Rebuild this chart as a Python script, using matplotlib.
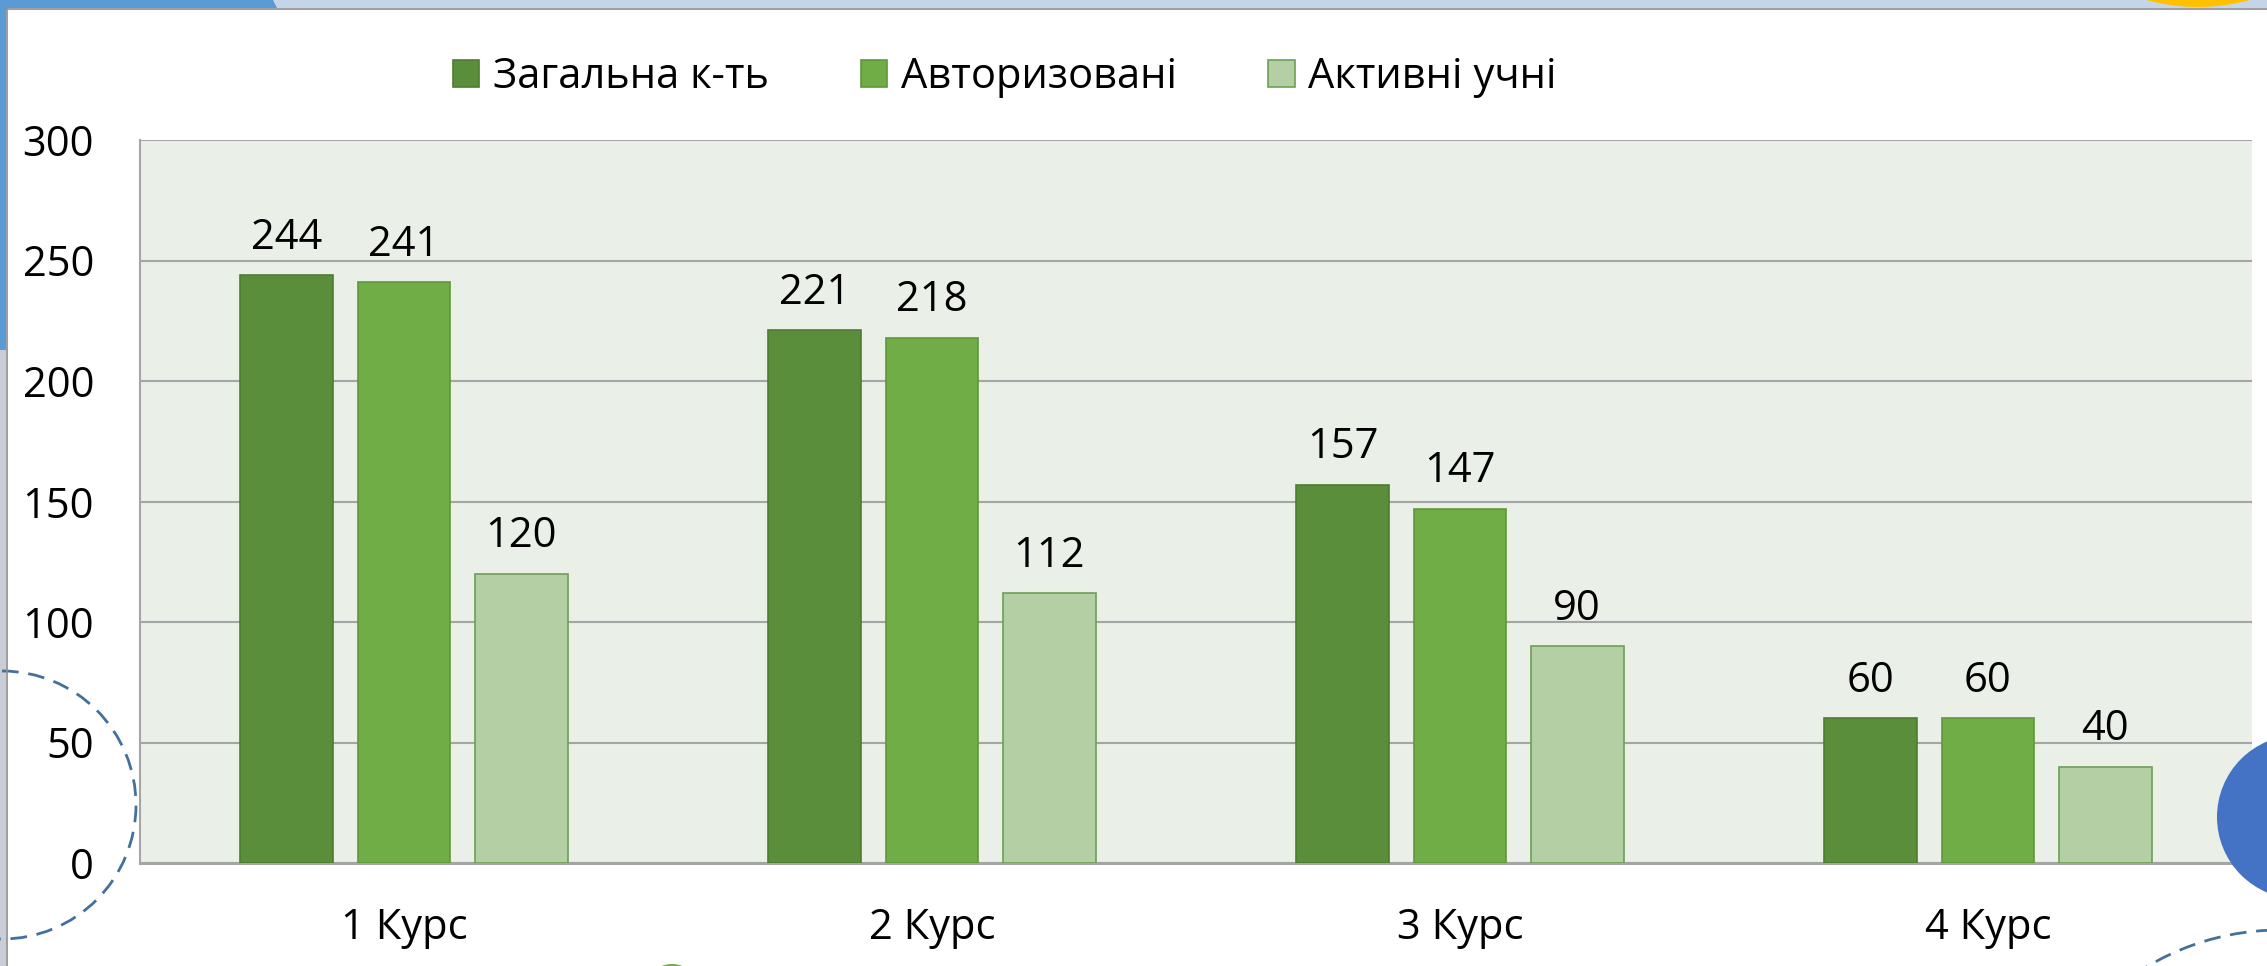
import matplotlib
matplotlib.use('Agg')
import matplotlib.pyplot as plt
import numpy as np
from matplotlib.patches import Rectangle, Circle, Polygon

categories = ['1 Курс', '2 Курс', '3 Курс', '4 Курс']
series_names = ['Загальна к-ть', 'Авторизовані', 'Активні учні']
total = [244, 221, 157, 60]
authorized = [241, 218, 147, 60]
active = [120, 112, 90, 40]
yticks = [0, 50, 100, 150, 200, 250, 300]

W, H = 2267, 966
FS = 30
plt.rcParams['font.family'] = ['Open Sans', 'DejaVu Sans']
fig = plt.figure(figsize=(W / 100, H / 100), dpi=100)
fig.patch.set_facecolor('white')

ax = fig.add_axes([140 / W, 1 - 863 / H, (2252 - 140) / W, (863 - 140) / H])
ax.set_facecolor('#EAEFE8')

x = np.arange(len(categories))
offsets = [-0.222, 0.0, 0.222]
width = 0.176
colors = ['#5A8E3A', '#70AD47', '#B5CFA5']
edges = ['#4E7D32', '#5E983A', '#6E9F55']
series = [total, authorized, active]

for vals, off, c, e, name in zip(series, offsets, colors, edges, series_names):
    bars = ax.bar(x + off, vals, width, color=c, edgecolor=e, linewidth=1.2,
                  label=name, zorder=3)
    for b, v in zip(bars, vals):
        ax.annotate(str(v), (b.get_x() + b.get_width() / 2, v), xytext=(0, 19),
                    textcoords='offset points', ha='center', va='baseline',
                    fontsize=FS, color='black')

ax.set_xlim(-0.5, 3.5)
ax.set_ylim(0, 300)
ax.set_yticks(yticks)
ax.set_xticks(x)
ax.set_xticklabels(categories)
ax.grid(axis='y', color='#A5A5A5', linewidth=1.5)
ax.set_axisbelow(True)
ax.tick_params(axis='y', length=0, labelsize=FS, pad=33)
ax.tick_params(axis='x', length=0, labelsize=FS, pad=32)
for s in ['top', 'right']:
    ax.spines[s].set_visible(False)
for s in ['left', 'bottom']:
    ax.spines[s].set_color('#A5A5A5')
    ax.spines[s].set_linewidth(1.5)
ax.spines['bottom'].set_linewidth(2.2)

handles, labels = ax.get_legend_handles_labels()
fig.legend(handles, labels, loc='center', bbox_to_anchor=(1005 / W, 1 - 77 / H),
           ncol=3, frameon=False, fontsize=FS, handlelength=0.63, handleheight=0.63,
           handletextpad=0.33, columnspacing=2.2)

# slide decorations
dax = fig.add_axes([0, 0, 1, 1], zorder=10)
dax.set_xlim(0, W)
dax.set_ylim(H, 0)
dax.axis('off')
dax.patch.set_alpha(0)

dax.add_patch(Rectangle((0, 0), W, 8, color='#C3D5E6', lw=0))
dax.add_patch(Circle((2198, -186), 193, color='#FFC000', lw=0))
dax.add_patch(Polygon([(0, 0), (273, 0), (277, 8), (0, 8)], closed=True, color='#5B9BD5', lw=0))
dax.plot([6, W], [8.5, 8.5], color='#8C8C8C', lw=1.2)
dax.add_patch(Rectangle((0, 0), 6, 350, color='#5B9BD5', lw=0))
dax.add_patch(Rectangle((0, 350), 6, H - 350, color='#C9CED6', lw=0))
dax.plot([6.5, 6.5], [8, H], color='#8C8C8C', lw=1.2)

dax.add_patch(Circle((2, 805), 134, fill=False, edgecolor='#41719C', lw=2.0,
                     linestyle=(0, (6, 3.5))))
dax.add_patch(Circle((2280, 1190), 260, fill=False, edgecolor='#41719C', lw=2.0,
                     linestyle=(0, (6, 3.5))))
dax.add_patch(Circle((2299, 817), 82, color='#4472C4', lw=0))
dax.add_patch(Circle((672, 992), 28, color='#70AD47', lw=0))

fig.savefig('out.png', dpi=100)
